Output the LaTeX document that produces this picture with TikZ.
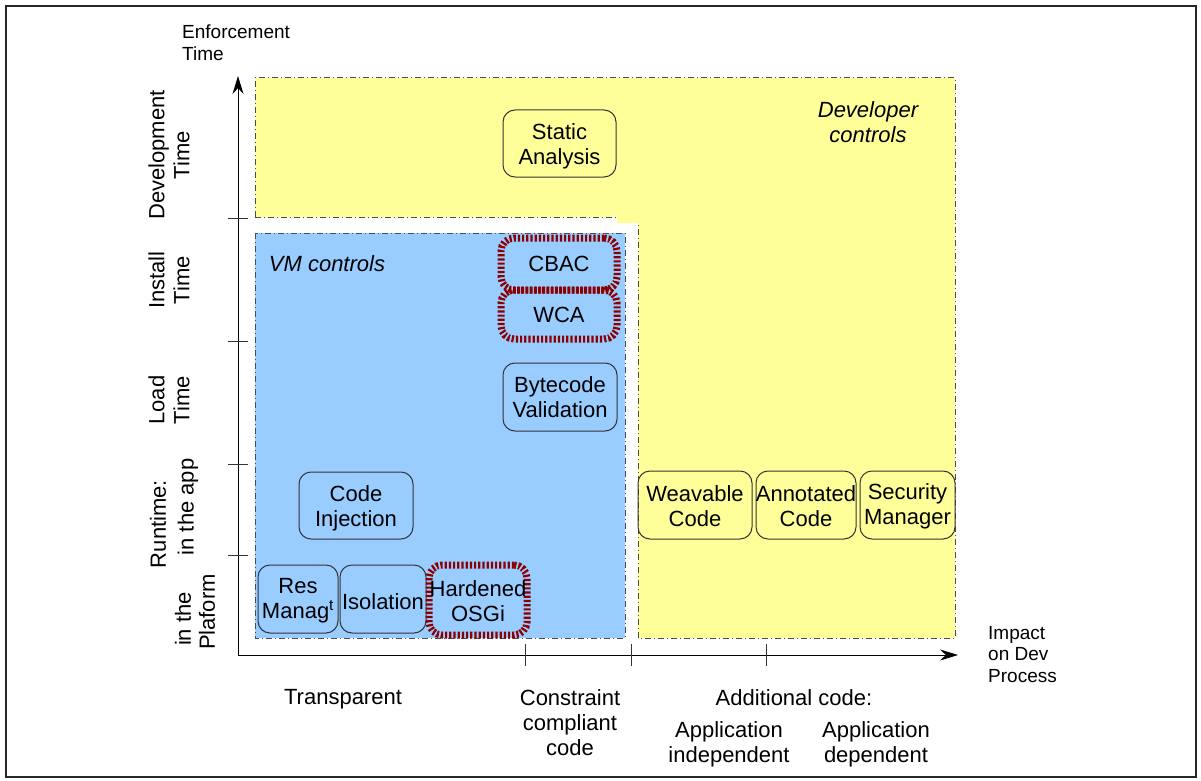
\documentclass[tikz,border=0pt]{standalone}
\usepackage{fontspec}
\setmainfont{Liberation Sans}
\usetikzlibrary{arrows.meta}
\definecolor{yel}{HTML}{FFFF99}
\definecolor{blu}{HTML}{99CCFF}
\definecolor{dred}{HTML}{8B0000}
\definecolor{edge}{HTML}{333333}
\tikzset{
  big/.style={font=\fontsize{22}{25}\selectfont},
  small/.style={font=\fontsize{19}{21.5}\selectfont},
  box/.style={draw=edge, line width=1pt, rounded corners=12pt, inner sep=0pt},
  redbox/.style={draw=dred, line width=7pt, dash pattern=on 2.2pt off 2pt, rounded corners=13pt, inner sep=0pt},
  region/.style={draw=black!70, line width=1pt, dash pattern=on 6pt off 3pt on 1pt off 3pt},
  axis/.style={draw=black, line width=1pt},
  tick/.style={draw=black!80, line width=1pt},
  lab/.style={big, align=center, inner sep=0pt},
}
\begin{document}
\begin{tikzpicture}[x=1pt,y=-1pt]
\useasboundingbox (0,0) rectangle (1201,781);
\draw[line width=2pt, black!85] (6,6) rectangle (1196,777);
% regions
\fill[yel] (255,78) -- (955,78) -- (955,638) -- (638,638) -- (638,223) -- (617,223) -- (617,217) -- (255,217) -- cycle;
\draw[region] (255,217) -- (255,78) -- (955,78) -- (955,638) -- (638,638) -- (638,223);
\draw[region] (255,217) -- (617,217);
\fill[blu] (255,233) rectangle (625,638);
\draw[region] (255,233) rectangle (625,638);
% axes
\coordinate (O) at (238,655);
\coordinate (Ytop) at (238,76);
\coordinate (Xend) at (958,655);
\draw[axis, -{Stealth[length=18pt,width=11pt]}] (O) -- (Ytop);
\draw[axis, -{Stealth[length=18pt,width=11pt]}] (O) -- (Xend);
\foreach \y in {218,341,464,555} \draw[tick] (228,\y) -- (248,\y);
\foreach \x in {525,631,766} \draw[tick] (\x,644) -- (\x,666);
% boxes
\node[box, minimum width=113pt, minimum height=67pt] (sa) at (559.5,143.5) {};
\node[box, minimum width=114pt, minimum height=68pt] (bv) at (560,397) {};
\node[box, minimum width=114pt, minimum height=67pt] (ci) at (356,505.5) {};
\node[box, minimum width=80pt, minimum height=68pt] (rm) at (298,599) {};
\node[box, minimum width=86pt, minimum height=68pt] (iso) at (383,599) {};
\node[box, minimum width=114pt, minimum height=68pt] (wc) at (695,505) {};
\node[box, minimum width=100pt, minimum height=68pt] (ac) at (806,505) {};
\node[box, minimum width=95pt, minimum height=68pt] (sm) at (907.5,505) {};
\node[redbox, minimum width=116pt, minimum height=52pt] (cbac) at (559,264) {};
\node[redbox, minimum width=116pt, minimum height=49pt] (wca) at (559,314.5) {};
\node[redbox, minimum width=98pt, minimum height=70pt] (osgi) at (478,600) {};
% box texts
\node[lab] (saT) at ([yshift=-3pt]sa.center) {Static\\Analysis};
\node[lab] (bvT) at ([yshift=-0.5pt]bv.center) {Bytecode\\Validation};
\node[lab] (ciT) at ([yshift=-3pt]ci.center) {Code\\Injection};
\node[lab] (rmT) at ([yshift=-1.5pt]rm.center) {Res\\Manag\textsuperscript{t}};
\node[lab] (isoT) at ([yshift=-2.5pt]iso.center) {Isolation};
\node[lab] (wcT) at ([yshift=-1.5pt]wc.center) {Weavable\\Code};
\node[lab] (acT) at ([yshift=-1.5pt]ac.center) {Annotated\\Code};
\node[lab] (smT) at ([yshift=-1.5pt]sm.center) {Security\\Manager};
\node[lab] (cbacT) at (cbac.center) {CBAC};
\node[lab] (wcaT) at (wca.center) {WCA};
\node[lab] (osgiT) at ([yshift=-1pt]osgi.center) {Hardened\\OSGi};
% region labels
\node[lab, font=\fontsize{22}{25}\selectfont\itshape] (vm) at (327,264) {VM controls};
\node[lab, font=\fontsize{22}{25}\selectfont\itshape] (dev) at (868,122) {Developer\\controls};
% axis titles
\node[small, align=left, inner sep=0pt, anchor=north west] (et) at (182,25) {Enforcement\\Time};
\node[small, align=left, inner sep=0pt, anchor=north west] (ip) at (988,626) {Impact\\on Dev\\Process};
% y labels
\node[lab, rotate=90] (ydev) at (169,155) {Development\\Time};
\node[lab, rotate=90] (yins) at (169,280) {Install\\Time};
\node[lab, rotate=90] (ylod) at (169,400) {Load\\Time};
\node[lab, rotate=90] (yrt) at (158,524) {Runtime:};
\node[lab, rotate=90] (yapp) at (188,507) {in the app};
\node[lab, rotate=90] (yin) at (183,619) {in the};
\node[lab, rotate=90] (ypl) at (207,612) {Plaform};
% x labels
\node[lab] (xt) at (343,699) {Transparent};
\node[lab] (xc) at (570,723) {Constraint\\compliant\\code};
\node[lab] (xa) at (794,698) {Additional code:};
\node[lab] (xai) at (729,744) {Application\\independent};
\node[lab] (xad) at (876,744) {Application\\dependent};
\end{tikzpicture}
\end{document}
